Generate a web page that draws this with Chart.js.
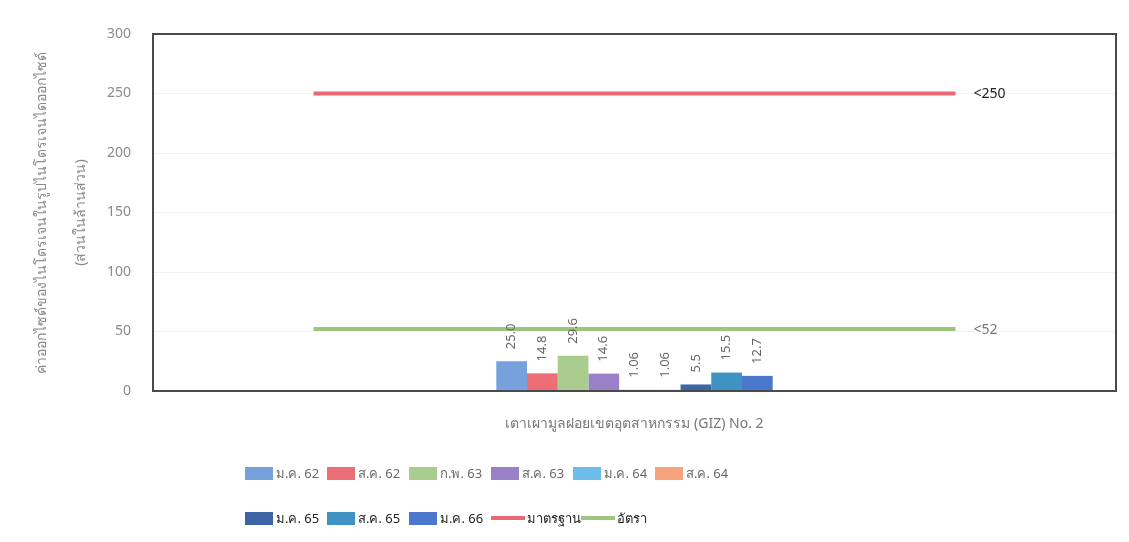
<!DOCTYPE html>
<html>
<head>
<meta charset="utf-8">
<script src="https://cdn.jsdelivr.net/npm/chart.js@4/dist/chart.umd.min.js"></script>
<style>
  html, body { margin: 0; padding: 0; background: #fff; }
  #wrap { position: relative; width: 1129px; height: 542px; }
  #legend { position: absolute; left: 245px; top: 462px; font-family: "Noto Sans", "DejaVu Sans", sans-serif; font-size: 13px; color: #6a6a6a; }
  .row { display: flex; align-items: center; height: 22px; margin-bottom: 23px; }
  .item { display: flex; align-items: center; }
  .item.bar { width: 82px; }
  .swatch { width: 28px; height: 13px; margin-right: 3px; }
  .lineSwatch { width: 34px; height: 4px; margin-right: 2px; }
  .row2 { color: #222; }
</style>
</head>
<body>
<div id="wrap">
  <canvas id="c" width="1129" height="542"></canvas>
  <div id="legend"></div>
</div>
<script>
// Sampling rounds (Thai month abbreviations + Buddhist year)
const rounds = ['ม.ค. 62', 'ส.ค. 62', 'ก.พ. 63', 'ส.ค. 63', 'ม.ค. 64', 'ส.ค. 64', 'ม.ค. 65', 'ส.ค. 65', 'ม.ค. 66'];
const roundValues = [25.0, 14.8, 29.6, 14.6, 1.06, 1.06, 5.5, 15.5, 12.7];
const roundDecimals = [1, 1, 1, 1, 2, 2, 1, 1, 1];
const roundColors = ['#77a1dc', '#ec6f78', '#a9cd8e', '#9a80c6', '#6cbde9', '#f6a37c', '#3f64a3', '#3e93c2', '#4b77cc'];

// Single measuring station, placed at the middle of the x range
const category = ['เตาเผามูลฝอยเขตอุตสาหกรรม (GIZ) No. 2'];
const categoryPos = 3;
const xRange = [0, 6];

// Reference limits drawn as horizontal lines
const limitNames = ['มาตรฐาน', 'อัตรา'];
const limitValues = [250, 52];
const limitColors = ['#ea6873', '#9dc57f'];
const limitSpan = [1, 5];

const yTicks = [0, 50, 100, 150, 200, 250, 300];
const yTitle = ['ค่าออกไซด์ของไนโตรเจนในรูปไนโตรเจนไดออกไซด์', '(ส่วนในล้านส่วน)'];

const FONT = '"Noto Sans", "DejaVu Sans", sans-serif';

const datasets = rounds.map((r, i) => ({
  type: 'bar',
  label: r,
  data: [{ x: categoryPos, y: roundValues[i] }],
  backgroundColor: roundColors[i],
  categoryPercentage: 0.287,
  barPercentage: 1.0,
  decimals: roundDecimals[i]
}));
limitNames.forEach((n, i) => {
  datasets.push({
    type: 'line',
    label: n,
    data: limitSpan.map(xv => ({ x: xv, y: limitValues[i] })),
    borderColor: limitColors[i],
    borderWidth: 4,
    pointRadius: 0,
    endText: '<' + limitValues[i],
    endColor: i === 0 ? '#222' : '#777'
  });
});

// Frame around plot area
const framePlugin = {
  id: 'frame',
  afterDraw(chart) {
    const { ctx, chartArea: a } = chart;
    ctx.save();
    ctx.strokeStyle = '#4a4a4a';
    ctx.lineWidth = 2;
    ctx.strokeRect(a.left, a.top, a.right - a.left, a.bottom - a.top);
    ctx.restore();
  }
};

// Rotated value labels above bars, and text at the right end of limit lines
const labelPlugin = {
  id: 'valueLabels',
  afterDatasetsDraw(chart) {
    const ctx = chart.ctx;
    ctx.save();
    chart.data.datasets.forEach((ds, di) => {
      const meta = chart.getDatasetMeta(di);
      if (ds.type === 'bar') {
        meta.data.forEach((el, j) => {
          const txt = ds.data[j].y.toFixed(ds.decimals);
          ctx.save();
          ctx.translate(el.x, el.y - 12);
          ctx.rotate(-Math.PI / 2);
          ctx.font = '13px ' + FONT;
          ctx.fillStyle = '#666';
          ctx.textAlign = 'left';
          ctx.textBaseline = 'middle';
          ctx.fillText(txt, 0, 0);
          ctx.restore();
        });
      } else if (ds.type === 'line') {
        const last = meta.data[meta.data.length - 1];
        ctx.font = '14px ' + FONT;
        ctx.fillStyle = ds.endColor;
        ctx.textAlign = 'left';
        ctx.textBaseline = 'middle';
        ctx.fillText(ds.endText, last.x + 18, last.y + 1);
      }
    });
    ctx.restore();
  }
};

// Legend built from the chart's datasets
const htmlLegend = {
  id: 'htmlLegend',
  afterUpdate(chart) {
    const box = document.getElementById('legend');
    box.innerHTML = '';
    const ds = chart.data.datasets;
    const rows = [ds.slice(0, 6), ds.slice(6)];
    rows.forEach((list, ri) => {
      const row = document.createElement('div');
      row.className = 'row' + (ri === 1 ? ' row2' : '');
      list.forEach(d => {
        const it = document.createElement('div');
        const sw = document.createElement('span');
        if (d.type === 'bar') {
          it.className = 'item bar';
          sw.className = 'swatch';
          sw.style.background = d.backgroundColor;
        } else {
          it.className = 'item';
          sw.className = 'lineSwatch';
          sw.style.background = d.borderColor;
        }
        const tx = document.createElement('span');
        tx.textContent = d.label;
        it.appendChild(sw);
        it.appendChild(tx);
        row.appendChild(it);
      });
      box.appendChild(row);
    });
  }
};

new Chart(document.getElementById('c'), {
  type: 'bar',
  data: { datasets },
  options: {
    responsive: false,
    animation: false,
    layout: { padding: { top: 34, right: 13, bottom: 91, left: 0 } },
    plugins: { legend: { display: false }, tooltip: { enabled: false } },
    scales: {
      x: {
        type: 'linear',
        offset: false,
        min: xRange[0],
        max: xRange[1],
        afterBuildTicks(s) { s.ticks = [{ value: categoryPos }]; },
        grid: { display: false },
        border: { display: false },
        ticks: {
          color: '#777',
          font: { family: FONT, size: 14 },
          padding: 17,
          maxRotation: 0,
          callback: () => category[0]
        },
        afterFit(s) { s.height = 60; }
      },
      y: {
        min: 0,
        max: 300,
        afterBuildTicks(s) { s.ticks = yTicks.map(v => ({ value: v })); },
        grid: { color: 'rgba(0,0,0,0.05)', drawTicks: false },
        border: { display: false },
        ticks: { color: '#8a8a8a', font: { family: FONT, size: 14 }, padding: 22 },
        title: {
          display: true,
          text: yTitle,
          color: '#8a8a8a',
          font: { family: FONT, size: 14, lineHeight: 2.8 },
          padding: { top: 22, bottom: 0 }
        },
        afterFit(s) { s.width = 153; }
      }
    }
  },
  plugins: [framePlugin, labelPlugin, htmlLegend]
});
</script>
</body>
</html>
